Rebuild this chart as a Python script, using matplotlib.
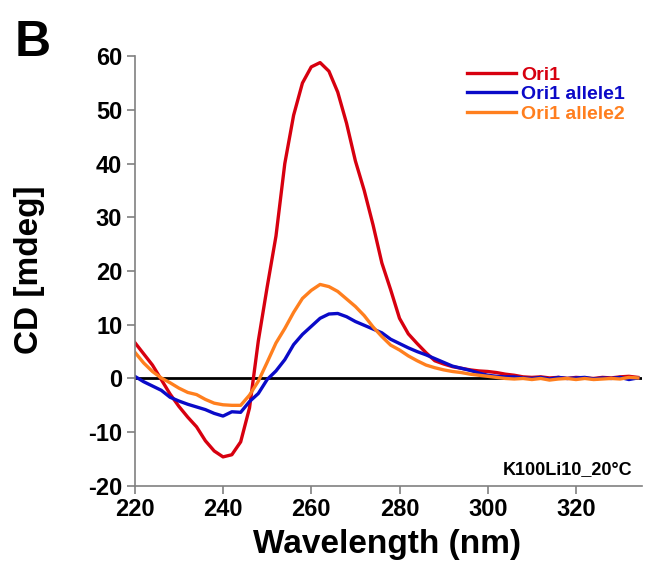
import matplotlib
matplotlib.use("Agg")
import matplotlib.pyplot as plt

plt.rcParams['font.family'] = ['Liberation Sans', 'DejaVu Sans']
plt.rcParams['font.weight'] = 'bold'
plt.rcParams['axes.unicode_minus'] = False

# wavelength grid (nm), 2 nm steps
wavelength = list(range(220, 336, 2))

# CD signal (mdeg)
ori1 = [6.7, 4.6, 2.5, -0.2, -2.9, -5.2, -7.2, -9.0, -11.6, -13.5,
        -14.6, -14.2, -11.8, -5.5, 7.0, 17.0, 26.5, 40.0, 49.0, 55.0,
        58.0, 58.8, 57.2, 53.3, 47.5, 40.5, 35.0, 28.6, 21.5, 16.5,
        11.2, 8.3, 6.5, 4.8, 3.3, 2.7, 2.2, 1.9, 1.6, 1.4,
        1.3, 1.1, 0.8, 0.6, 0.3, 0.2, 0.3, 0.1, 0.2, 0.0,
        0.2, 0.1, 0.0, 0.2, 0.1, 0.3, 0.4, 0.2]
allele1 = [0.4, -0.6, -1.4, -2.2, -3.5, -4.2, -4.8, -5.3, -5.8, -6.5,
           -7.0, -6.2, -6.3, -4.3, -2.8, -0.2, 1.4, 3.5, 6.3, 8.2,
           9.7, 11.2, 12.0, 12.1, 11.5, 10.6, 9.9, 9.2, 8.5, 7.3,
           6.5, 5.7, 5.0, 4.4, 3.7, 3.0, 2.3, 1.9, 1.5, 1.0,
           0.6, 0.4, 0.3, 0.3, 0.1, 0.0, 0.2, -0.1, 0.2, 0.0,
           0.1, 0.2, -0.1, 0.1, 0.0, 0.2, -0.2, 0.1]
allele2 = [4.9, 2.9, 1.3, 0.1, -0.8, -1.8, -2.6, -3.0, -3.9, -4.6,
           -4.9, -5.0, -5.0, -3.1, -0.5, 3.0, 6.6, 9.3, 12.3, 14.9,
           16.4, 17.5, 17.1, 16.2, 14.8, 13.4, 11.7, 9.6, 7.8, 6.2,
           5.3, 4.2, 3.3, 2.5, 2.0, 1.6, 1.3, 1.1, 0.8, 0.6,
           0.4, 0.2, 0.0, -0.1, 0.0, -0.2, 0.0, -0.3, -0.1, 0.0,
           -0.2, 0.0, -0.2, -0.1, 0.0, -0.1, 0.2, 0.1]

labels = ['Ori1', 'Ori1 allele1', 'Ori1 allele2']
colors = ['#d7000f', '#0a0ac8', '#ff7f1e']

fig = plt.figure(figsize=(6.48, 5.73), dpi=100)
ax = fig.add_axes([0.208, 0.152, 0.783, 0.750])

ax.axhline(0, color='black', lw=2, zorder=1)
for y, lab, c in zip([ori1, allele1, allele2], labels, colors):
    ax.plot(wavelength, y, color=c, lw=2.4, label=lab, zorder=2)

ax.set_xlim(220, 335)
ax.set_ylim(-20, 60)
ax.set_xticks(range(220, 321, 20))
ax.set_yticks(range(-20, 61, 10))

for side in ['top', 'right']:
    ax.spines[side].set_visible(False)
for side in ['left', 'bottom']:
    ax.spines[side].set_color('#808080')
    ax.spines[side].set_linewidth(1.2)
ax.tick_params(direction='out', length=6, width=1.2, color='#808080',
               labelsize=17, labelcolor='black', pad=3)

fig.text(387 / 648, 1 - 545 / 573, 'Wavelength (nm)', fontsize=24,
         fontweight='bold', ha='center', va='center')
fig.text(30 / 648, 1 - 270 / 573, 'CD [mdeg]', fontsize=24,
         fontweight='bold', ha='center', va='center', rotation=90)
fig.text(15 / 648, 1 - 20 / 573, 'B', fontsize=36, fontweight='bold',
         ha='left', va='top')
fig.text(632 / 648, 1 - 470 / 573, 'K100Li10_20°C', fontsize=13,
         fontweight='bold', ha='right', va='center')

leg = ax.legend(loc='upper left', bbox_to_anchor=(467 / 648, 1 - 66 / 573),
                bbox_transform=fig.transFigure, frameon=False,
                prop={'weight': 'bold', 'size': 14}, labelcolor='linecolor',
                handlelength=2.5, handletextpad=0.3, labelspacing=0.1,
                borderpad=0, borderaxespad=0)

fig.savefig('out.png', dpi=100)
